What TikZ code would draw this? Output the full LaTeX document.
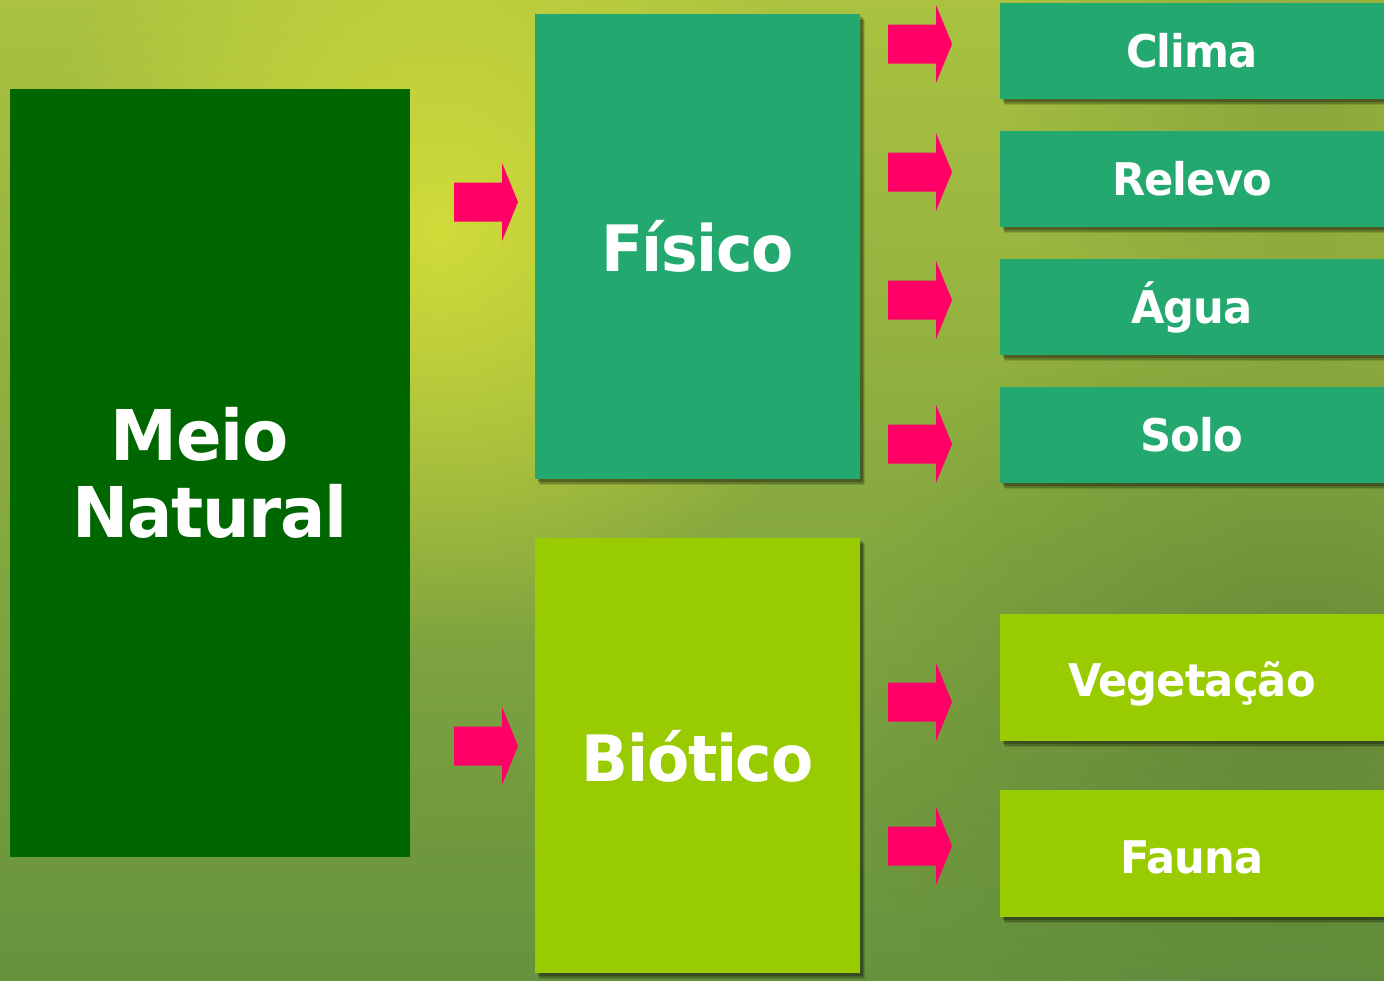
\documentclass[tikz,border=0pt]{standalone}
\usepackage{fontspec}
\setmainfont{DejaVu Sans}[FakeStretch=0.96,LetterSpace=-2]
\usetikzlibrary{shadows,fadings}
\definecolor{bgtop}{RGB}{170,194,64}
\definecolor{bgbot}{RGB}{102,146,62}
\definecolor{glow}{RGB}{218,226,56}
\definecolor{darkgr}{RGB}{0,102,0}
\definecolor{teal}{RGB}{35,169,111}
\definecolor{lime}{RGB}{153,204,0}
\definecolor{pink}{RGB}{255,0,102}
\tikzfading[name=glowfade, inner color=transparent!0, outer color=transparent!100]
\tikzset{
  box/.style={draw=none, inner sep=0pt, text=white, font=\bfseries, align=center},
  shad/.style={
    drop shadow={shadow xshift=2.5pt, shadow yshift=-3pt, fill=black, opacity=0.12},
    drop shadow={shadow xshift=2pt, shadow yshift=-2.3pt, fill=black, opacity=0.18},
    drop shadow={shadow xshift=1.4pt, shadow yshift=-1.6pt, fill=black, opacity=0.25}},
  barrow/.pic={\fill[pink] (-32,-19.5) -- (16,-19.5) -- (16,-39) -- (32,0) -- (16,39) -- (16,19.5) -- (-32,19.5) -- cycle;}
}
\begin{document}
\begin{tikzpicture}[x=0.5pt,y=-0.5pt]
\useasboundingbox (0,0) rectangle (1384,980);
% background
\shade[top color=bgtop, bottom color=bgbot] (0,0) rectangle (1384,980);
\begin{scope}
\clip (0,0) rectangle (1384,980);
\fill[glow, path fading=glowfade, opacity=0.85] (440,230) circle (420);
\fill[bgbot!80!black, path fading=glowfade, opacity=0.5] (1300,700) circle (450);
\fill[bgbot!85!black, path fading=glowfade, opacity=0.35] (1300,80) circle (300);
\end{scope}
% boxes
\node[box, fill=darkgr, minimum width=200pt, minimum height=384pt, font=\bfseries\fontsize{35}{38.5}\selectfont] (meio) at (210,473) {Meio\hspace*{0.3em}\\Natural};
\node[box, shad, fill=teal, text height=25.3pt, text depth=0pt, minimum width=162.5pt, minimum height=232.5pt, font=\bfseries\fontsize{32}{36}\selectfont] (fisico) at (697.5,246.5) {Físico};
\node[box, shad, fill=lime, text height=26.3pt, text depth=0pt, minimum width=162.5pt, minimum height=217.5pt, font=\bfseries\fontsize{32}{36}\selectfont] (biotico) at (697.5,755.5) {Biótico};
\tikzset{small/.style={box, shad, text depth=0pt, minimum width=192pt, font=\bfseries\fontsize{22.5}{26}\selectfont}}
\node[small, fill=teal, text height=16.6pt, minimum height=48pt] (clima) at (1192,51) {Clima};
\node[small, fill=teal, text height=16.6pt, minimum height=48pt] (relevo) at (1192,179) {Relevo};
\node[small, fill=teal, text height=16.6pt, minimum height=48pt] (agua) at (1192,307) {Água};
\node[small, fill=teal, text height=16.6pt, minimum height=48pt] (solo) at (1192,435) {Solo};
\node[small, fill=lime, text height=18.9pt, minimum height=63.5pt] (veg) at (1192,677.5) {Vegetação};
\node[small, fill=lime, text height=20.4pt, minimum height=63.5pt] (fauna) at (1192,853.5) {Fauna};
% arrows
\pic (a1) at (486,202) {barrow};
\pic (a2) at (486,746) {barrow};
\pic (a3) at (920,44) {barrow};
\pic (a4) at (920,172) {barrow};
\pic (a5) at (920,300) {barrow};
\pic (a6) at (920,444) {barrow};
\pic (a7) at (920,702) {barrow};
\pic (a8) at (920,846) {barrow};
\end{tikzpicture}
\end{document}
